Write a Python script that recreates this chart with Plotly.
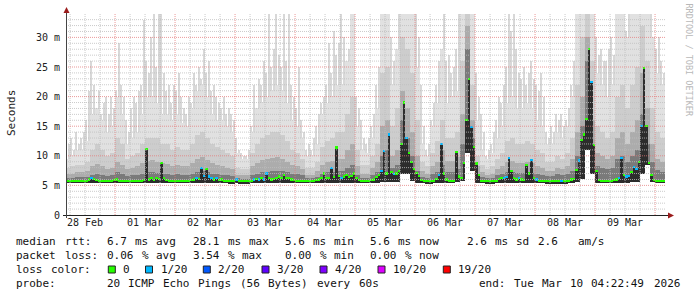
import plotly.graph_objects as go
from datetime import datetime, timedelta

# ---------------- data ----------------
T0 = datetime(2026, 2, 28, 4, 0)            # first sample step start
X_START = datetime(2026, 2, 28, 4, 22, 49)
X_END = datetime(2026, 3, 10, 4, 22, 49)

# smoke bands, 2-hour steps, one row per day starting 04:00 (ms)
smoke_max = [
    9.5, 10, 11, 11, 12.5, 17, 18, 16, 14, 15, 20, 17,
    12, 13, 14, 17, 20, 20, 19, 17, 17, 16, 17, 15.5,
    15, 18, 21, 22, 20, 17, 16, 16, 15, 14, 10.5, 9.5,
    9.5, 14, 18, 19, 20, 21, 22, 21, 19, 16, 15, 13,
    10, 10, 12, 17, 19, 20, 22, 22, 26, 34, 15, 11,
    10.5, 13, 18, 34, 34, 22, 28, 34, 34, 34, 25, 12,
    10, 15, 19, 28, 19, 20, 21, 34, 34, 34, 16, 11,
    9.5, 10.5, 13, 15, 19, 20, 18, 18, 19, 18, 16, 15,
    12, 12, 14, 13, 15, 20, 34, 34, 34, 34, 24, 22,
    20, 22, 34, 34, 30, 34, 34, 34, 34, 30, 24, 22,
]
smoke_p90 = [
    8.0, 8.2, 8.5, 8.5, 9.0, 11, 12, 11, 10, 10.5, 13, 12,
    9.5, 10, 10.5, 12, 13, 13, 13, 12, 12, 11, 11.5, 11,
    11, 12, 13.5, 14, 13, 12, 11.5, 11, 10.5, 10, 8.0, 7.8,
    7.8, 10.5, 12, 13, 13.5, 14, 14, 13.5, 12.5, 11, 10.5, 9.5,
    8.0, 8.0, 9.0, 11.5, 12.5, 13, 14, 14, 17, 20, 11, 8.5,
    8.5, 10, 12, 24, 25, 15, 18, 30, 28, 24, 16, 9,
    8.2, 10.5, 12.5, 16, 13, 13, 14, 26, 34, 22, 10, 8.5,
    7.8, 8.3, 9.5, 10.5, 12.5, 13, 12, 12, 12.5, 12, 11, 10.5,
    9.0, 9.0, 10, 9.5, 10.5, 13, 22, 30, 34, 26, 15, 14,
    13, 14, 20, 22, 18, 22, 25, 32, 26, 18, 14, 13,
]
smoke_p75 = [
    6.9, 7.0, 7.2, 7.2, 7.5, 8.3, 8.6, 8.2, 7.8, 8.0, 9.0, 8.5,
    7.8, 8.0, 8.2, 8.8, 9.2, 9.3, 9.0, 8.8, 8.6, 8.3, 8.5, 8.3,
    8.3, 8.8, 9.5, 9.8, 9.3, 8.8, 8.5, 8.3, 8.0, 7.8, 6.8, 6.7,
    6.7, 8.2, 8.8, 9.3, 9.5, 9.6, 9.8, 9.5, 9.0, 8.5, 8.2, 7.8,
    6.8, 6.8, 7.4, 8.5, 9.0, 9.2, 9.5, 9.5, 11, 12, 8.2, 7.0,
    7.0, 8.0, 9.0, 15, 16, 10, 11, 21, 18, 14, 10, 7.5,
    7.0, 8.2, 9.0, 11, 9.2, 9.2, 9.8, 17, 32, 16, 8.2, 7.2,
    6.8, 7.0, 7.8, 8.2, 9.0, 9.2, 8.8, 8.8, 9.0, 8.8, 8.3, 8.0,
    7.5, 7.5, 8.0, 7.8, 8.3, 9.5, 14, 20, 30, 16, 10.5, 10,
    9.5, 10, 13, 14, 12, 14, 16, 24, 18, 12, 9.5, 9.0,
]
smoke_p60 = [
    6.3, 6.3, 6.4, 6.4, 6.5, 6.8, 7.0, 6.8, 6.6, 6.7, 7.2, 6.9,
    6.6, 6.7, 6.8, 7.0, 7.2, 7.2, 7.1, 7.0, 6.9, 6.8, 6.9, 6.8,
    6.8, 7.0, 7.3, 7.5, 7.2, 7.0, 6.9, 6.8, 6.7, 6.6, 6.2, 6.1,
    6.1, 6.8, 7.0, 7.2, 7.3, 7.4, 7.5, 7.4, 7.2, 7.0, 6.9, 6.7,
    6.2, 6.2, 6.5, 7.0, 7.2, 7.3, 7.5, 7.4, 8.0, 8.5, 6.8, 6.3,
    6.3, 6.8, 7.2, 10, 11, 8.0, 8.5, 16, 13, 10, 7.5, 6.5,
    6.3, 6.9, 7.3, 8.5, 7.3, 7.3, 7.8, 12, 28, 13, 7.0, 6.4,
    6.2, 6.3, 6.7, 6.9, 7.2, 7.3, 7.1, 7.1, 7.2, 7.1, 6.9, 6.7,
    6.6, 6.6, 6.9, 6.8, 7.0, 7.5, 10, 15, 26, 11, 8.2, 8.0,
    7.8, 8.0, 9.5, 10, 9.0, 10, 11, 17, 12, 9, 7.6, 7.3,
]
smoke_min = [
    5.4, 5.4, 5.4, 5.4, 5.4, 5.4, 5.4, 5.4, 5.4, 5.4, 5.4, 5.4,
    5.4, 5.4, 5.4, 5.4, 5.4, 5.4, 5.4, 5.4, 5.4, 5.4, 5.4, 5.4,
    5.4, 5.4, 5.4, 5.4, 5.4, 5.4, 5.4, 5.4, 5.4, 5.4, 5.4, 5.4,
    5.4, 5.4, 5.4, 5.4, 5.4, 5.4, 5.4, 5.4, 5.4, 5.4, 5.4, 5.4,
    5.4, 5.4, 5.4, 5.4, 5.4, 5.4, 5.4, 5.4, 5.4, 5.4, 5.4, 5.4,
    5.4, 5.4, 5.4, 5.5, 5.5, 5.5, 5.6, 7.0, 7.0, 5.8, 5.4, 5.4,
    5.4, 5.4, 5.4, 5.4, 5.4, 5.4, 5.5, 5.8, 10.5, 7.5, 5.4, 5.4,
    5.4, 5.4, 5.4, 5.4, 5.4, 5.4, 5.4, 5.4, 5.4, 5.4, 5.4, 5.4,
    5.4, 5.4, 5.4, 5.4, 5.4, 5.4, 5.5, 6.0, 11, 7.0, 5.4, 5.4,
    5.4, 5.4, 5.4, 5.4, 5.4, 5.5, 5.5, 7.0, 8.5, 5.6, 5.4, 5.4,
]

# highest ping per hour (the thin light spikes), one row per day from 04:00 (ms)
smoke_peak = [
    11, 12, 13, 11, 14, 12, 13, 14, 16, 21, 26, 22, 18, 21, 17, 19, 20, 17, 20, 18, 21, 29, 22, 20,
    16, 14, 18, 20, 19, 21, 22, 33, 26, 24, 30, 34, 25, 34, 34, 24, 21, 22, 19, 22, 21, 24, 20, 18,
    17, 20, 19, 24, 22, 25, 23, 28, 24, 26, 21, 22, 20, 19, 18, 20, 17, 18, 17, 16, 13, 11, 10.5, 10,
    10, 11, 15, 22, 18, 23, 22, 26, 24, 34, 25, 28, 34, 27, 25, 34, 26, 34, 22, 20, 18, 25, 16, 14,
    11, 12, 11, 13, 15, 17, 19, 20, 22, 29, 24, 31, 27, 29, 34, 30, 26, 28, 34, 34, 20, 18, 16, 13,
    12, 13, 15, 17, 22, 25, 34, 34, 34, 34, 30, 26, 27, 34, 34, 34, 34, 34, 34, 34, 34, 30, 22, 15,
    11, 12, 16, 19, 22, 26, 24, 34, 26, 27, 24, 25, 28, 34, 30, 34, 34, 34, 34, 34, 24, 20, 17, 14,
    10, 11, 12, 14, 16, 20, 19, 22, 25, 34, 31, 34, 28, 24, 23, 25, 22, 24, 26, 23, 22, 21, 24, 20,
    14, 13, 15, 14, 17, 16, 17, 15, 16, 18, 22, 26, 34, 34, 34, 34, 34, 34, 34, 34, 30, 27, 28, 26,
    26, 28, 30, 27, 34, 34, 34, 34, 31, 34, 34, 34, 34, 34, 34, 34, 34, 34, 34, 30, 28, 30, 26, 24,
]

# median rtt, hourly steps, one row per day starting 04:00 (ms)
median_rtt = [
    5.8, 5.8, 5.8, 5.8, 5.8, 5.8, 5.8, 5.8, 5.8, 6.0, 6.3, 6.1, 5.9, 5.8, 5.8, 5.8, 5.8, 5.8, 5.8, 5.9, 6.0, 5.8, 5.8, 5.8,
    5.8, 5.8, 5.8, 5.8, 5.8, 5.8, 5.8, 5.9, 11.2, 6.0, 6.2, 5.9, 6.3, 6.1, 8.8, 6.2, 5.9, 5.8, 5.8, 5.8, 5.8, 5.8, 5.8, 5.8,
    5.8, 5.8, 5.9, 6.0, 6.3, 6.1, 7.9, 6.6, 7.8, 6.5, 6.3, 6.0, 6.2, 5.9, 6.0, 5.8, 5.8, 5.7, 5.7, 5.7, 6.0, 5.7, 5.7, 5.7,
    5.7, 5.7, 5.8, 6.0, 6.1, 6.0, 6.2, 6.0, 7.0, 6.2, 6.0, 6.1, 6.3, 6.5, 6.2, 6.8, 6.3, 6.2, 6.0, 5.9, 5.8, 5.8, 5.8, 5.8,
    5.8, 5.8, 5.8, 5.8, 5.9, 6.0, 6.2, 7.0, 6.3, 6.2, 7.9, 6.4, 11.4, 6.6, 6.3, 6.5, 6.7, 6.4, 6.6, 7.0, 6.3, 5.9, 5.8, 5.8,
    5.8, 5.8, 5.9, 6.0, 6.4, 6.8, 7.5, 10.8, 7.0, 13.6, 7.2, 6.9, 7.0, 7.5, 12.0, 19.0, 13.0, 10.5, 9.0, 7.8, 7.1, 6.6, 5.9, 5.8,
    5.7, 5.7, 5.7, 5.8, 6.1, 6.8, 12.0, 7.0, 6.0, 5.8, 5.8, 5.8, 10.7, 6.5, 6.3, 8.8, 16.0, 23.0, 14.9, 11.5, 8.7, 6.7, 5.8, 5.8,
    5.7, 5.7, 5.7, 5.7, 5.8, 6.1, 6.3, 6.2, 6.4, 9.6, 7.4, 6.2, 6.0, 6.2, 6.0, 5.9, 8.4, 7.0, 9.3, 6.3, 6.0, 5.8, 5.8, 5.8,
    5.7, 5.7, 5.7, 5.7, 5.7, 5.7, 5.7, 5.7, 5.7, 5.8, 6.0, 6.1, 7.6, 9.2, 12.7, 13.6, 16.2, 28.0, 22.5, 11.8, 7.4, 5.9, 5.8, 5.8,
    5.8, 5.8, 5.8, 5.9, 6.0, 6.2, 9.6, 6.8, 6.5, 6.6, 7.2, 8.1, 7.8, 9.0, 15.0, 24.8, 15.0, 8.8, 6.8, 5.9, 5.8, 5.8, 5.8, 5.8,
]
# hours (index into median_rtt) with 1/20 packet loss
loss_1_hours = [10, 52, 54, 55, 57, 58, 60, 68, 75, 77, 79, 80, 106, 110,
                126, 127, 129, 131, 136, 149, 150, 162, 175, 176, 177, 181,
                186, 188, 198, 205, 210, 221, 222, 224, 225, 227, 228, 230]

y_tick_vals = [0, 5, 10, 15, 20, 25, 30]
y_tick_text = ["0", "5 m", "10 m", "15 m", "20 m", "25 m", "30 m"]

loss_labels = ["0", "1/20", "2/20", "3/20", "4/20", "10/20", "19/20"]
loss_colors = ["#26ff00", "#00b8ff", "#0059ff", "#5e00ff", "#7e00ff", "#dd00ff", "#ff0000"]

# ---------------- figure ----------------
W, H = 697, 297
PL, PR, PT, PB = 66, 666, 14, 215   # plot area in pixels
Y_TOP = (PB - PT) / 5.92
GRID_MINOR = "rgba(190,190,190,0.8)"
GRID_MAJOR = "rgba(228,120,120,0.75)"


def px(x):
    return (x - PL) / (PR - PL)


def py(y):
    return (PB - y) / (PB - PT)


t2 = [T0 + timedelta(hours=2 * i + 1) for i in range(len(smoke_max))]
t1 = [T0 + timedelta(minutes=60 * h + 30) for h in range(len(median_rtt))]
hour_base = [smoke_min[h // 2] for h in range(len(median_rtt))]

fig = go.Figure()

# thin spikes of the highest pings
fig.add_trace(go.Bar(
    x=t1, y=[max(a - b, 0) for a, b in zip(smoke_peak, hour_base)], base=hour_base,
    width=0.45 * 3600 * 1000, marker=dict(color="#d8d8d8", line=dict(width=0)),
    hoverinfo="skip"))

band_specs = [(smoke_max, "#e1e1e1"), (smoke_p90, "#cdcdcd"),
              (smoke_p75, "#acacac"), (smoke_p60, "#7a7a7a")]
for top, col in band_specs:
    fig.add_trace(go.Bar(
        x=t2, y=[a - b for a, b in zip(top, smoke_min)], base=smoke_min,
        width=2 * 3600 * 1000, marker=dict(color=col, line=dict(width=0)),
        hoverinfo="skip"))

# dark core from the lowest ping up to the median
fig.add_trace(go.Bar(
    x=t1, y=[max(m - b, 0) for m, b in zip(median_rtt, hour_base)], base=hour_base,
    width=3600 * 1000, marker=dict(color="#2c2c2c", line=dict(width=0)),
    hoverinfo="skip"))

# median line, drawn as short dashes coloured by loss
med_cols = [loss_colors[1] if h in loss_1_hours else loss_colors[0] for h in range(len(median_rtt))]
dash_h = 0.36
fig.add_trace(go.Bar(
    x=t1, y=[dash_h] * len(median_rtt), base=[m - dash_h / 2 for m in median_rtt],
    width=3600 * 1000, marker=dict(color=med_cols, line=dict(width=0)),
    hoverinfo="skip"))

MONO = "DejaVu Sans Mono"
fig.update_layout(
    width=W, height=H,
    margin=dict(l=PL, r=W - PR, t=PT, b=H - PB),
    paper_bgcolor="white", plot_bgcolor="white",
    barmode="overlay", bargap=0, showlegend=False,
    font=dict(family=MONO, size=10, color="#222"),
    xaxis=dict(
        type="date", range=[X_START, X_END],
        tick0="2026-02-28", dtick=86400000, tickformat="%d %b",
        ticklabelmode="period", ticks="", showline=False, zeroline=False,
        showgrid=False,
        tickfont=dict(family=MONO, size=10, color="#222"),
    ),
    yaxis=dict(
        range=[0, Y_TOP], tickvals=y_tick_vals, ticktext=y_tick_text,
        ticks="outside", ticklen=3, tickcolor="rgba(0,0,0,0)",
        showline=False, zeroline=False, showgrid=False,
        tickfont=dict(family=MONO, size=10, color="#222"),
    ),
)

shapes = []
# grid drawn above the smoke, as rrdtool does
day0 = datetime(2026, 2, 28)
for k in range(1, 41):
    t = day0 + timedelta(hours=6 * k)
    if not (X_START < t < X_END):
        continue
    major = (k % 4 == 0)
    shapes.append(dict(type="line", xref="x", yref="paper", x0=t, x1=t, y0=0, y1=1,
                       line=dict(color=GRID_MAJOR if major else GRID_MINOR, width=1, dash="1px,1px"),
                       layer="above"))
for v in range(1, int(Y_TOP) + 1):
    major = (v % 5 == 0)
    shapes.append(dict(type="line", xref="paper", yref="y", x0=0, x1=1, y0=v, y1=v,
                       line=dict(color=GRID_MAJOR if major else GRID_MINOR, width=1, dash="1px,1px"),
                       layer="above"))

# axes with arrows
shapes.append(dict(type="line", xref="paper", yref="paper",
                   x0=px(63), x1=px(669), y0=py(215.5), y1=py(215.5),
                   line=dict(color="#222", width=1), layer="above"))
shapes.append(dict(type="line", xref="paper", yref="paper",
                   x0=px(66.5), x1=px(66.5), y0=py(218), y1=py(12),
                   line=dict(color="#444", width=1), layer="above"))
shapes.append(dict(type="path", xref="paper", yref="paper",
                   path=f"M {px(668)},{py(212.5)} L {px(674)},{py(215.5)} L {px(668)},{py(218.5)} Z",
                   fillcolor="#9b1c1c", line=dict(width=0), layer="above"))
shapes.append(dict(type="path", xref="paper", yref="paper",
                   path=f"M {px(63.5)},{py(13)} L {px(66.5)},{py(7)} L {px(69.5)},{py(13)} Z",
                   fillcolor="#9b1c1c", line=dict(width=0), layer="above"))

annotations = []


def text_at(x, y, s, size=11, color="#111", anchor="left", angle=0):
    annotations.append(dict(xref="paper", yref="paper", x=px(x), y=py(y), text=s,
                            showarrow=False, xanchor=anchor, yanchor="middle",
                            textangle=angle, borderpad=0,
                            font=dict(family=MONO, size=size, color=color)))


def tokens(x0, y, s, adv=7.0):
    col = 0
    for part in s.split(" "):
        if part:
            text_at(x0 + col * adv - 1, y, part)
        col += len(part) + 1


L1, L2, L3, L4 = 241.5, 255.5, 269.5, 283.5
for seg, x in [("median rtt:", 16), ("6.7 ms avg", 107.3), ("28.1 ms max", 193),
               ("5.6 ms min", 285), ("5.6 ms now", 370), ("2.6 ms sd", 467),
               ("2.6", 537.7), ("am/s", 578)]:
    tokens(x, L1, seg)
for seg, x in [("packet loss:", 16), ("0.06 % avg", 107.3), ("3.54 % max", 193),
               ("0.00 % min", 285), ("0.00 % now", 370)]:
    tokens(x, L2, seg)
tokens(16, L3, "loss color:")
sq_x = [108.3, 145.5, 203.3, 262, 320, 378, 443.3]
for lab, col, sx in zip(loss_labels, loss_colors, sq_x):
    shapes.append(dict(type="rect", xref="paper", yref="paper",
                       x0=px(sx), x1=px(sx + 7), y0=py(266), y1=py(273),
                       fillcolor=col, line=dict(color="#222", width=1), layer="above"))
    tokens(sx + 15, L3, lab)
tokens(16, L4, "probe:")
tokens(107.3, L4, "20 ICMP Echo Pings (56 Bytes) every 60s")
tokens(479.3, L4, "end: Tue Mar 10 04:22:49 2026")

text_at(11, 113, "Seconds", size=11, color="#222", anchor="center", angle=-90)
text_at(688.5, 60, "RRDTOOL / TOBI OETIKER", size=8.5, color="#b8b8b8", anchor="center", angle=90)

fig.update_layout(shapes=shapes, annotations=annotations)
fig.write_html("out.html")
